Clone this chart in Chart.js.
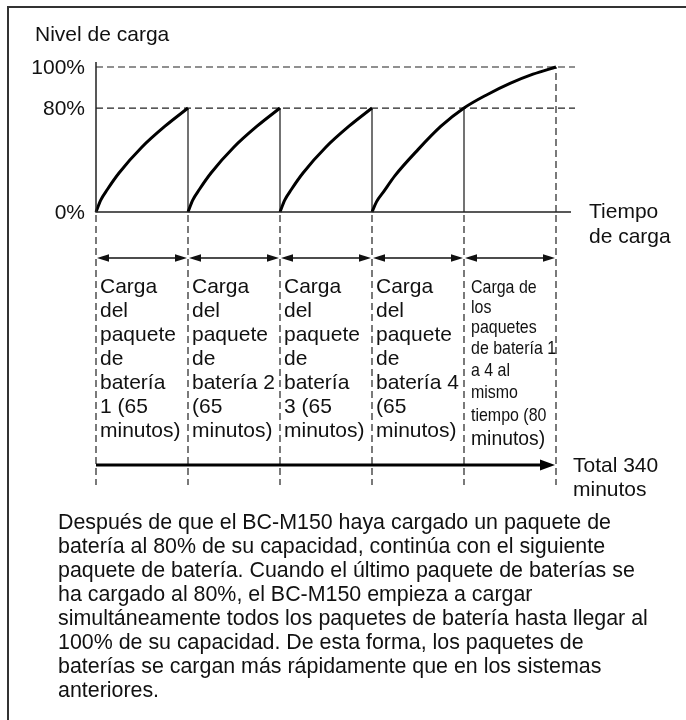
<!DOCTYPE html>
<html>
<head>
<meta charset="utf-8">
<script src="https://cdn.jsdelivr.net/npm/chart.js@4.4.1/dist/chart.umd.min.js"></script>
<style>
  html, body { margin: 0; padding: 0; background: #fff; }
  canvas { display: block; }
</style>
</head>
<body>
<canvas id="carga" width="686" height="720"></canvas>
<script>
// charge level of one pack, read at these fractions of its charging step
const stepFractions = [0, 0.05, 0.125, 0.25, 0.5, 0.75, 1];
const packCharge = [0, 9, 17.5, 30, 50, 66, 80];
// pack 4 runs straight on into the shared step
const lastPackCharge = [0, 8, 15.5, 28, 48, 66, 80];
// all packs together, 80% -> 100%
const finalFractions = [0, 0.25, 0.5, 0.75, 1];
const finalCharge = [80, 86.5, 92, 96.5, 100];

const levelTicks = [0, 80, 100];
const durations = [65, 65, 65, 65, 80];
const packs = [1, 2, 3, 4];

// the drawing puts 80% at ~72% of the height, not linear
function lvl(p) {
  return p <= 80 ? p * 71.7 / 80 : 71.7 + (p - 80) * 28.3 / 20;
}

const colText = [
  ["Carga", "del", "paquete", "de", "batería", "1 (" + durations[0], "minutos)"],
  ["Carga", "del", "paquete", "de", "batería 2", "(" + durations[1], "minutos)"],
  ["Carga", "del", "paquete", "de", "batería", "3 (" + durations[2], "minutos)"],
  ["Carga", "del", "paquete", "de", "batería 4", "(" + durations[3], "minutos)"],
  ["Carga de", "los", "paquetes", "de batería 1", "a 4 al", "mismo", "tiempo (" + durations[4], "minutos)"]
];
const total = durations.reduce((a, b) => a + b, 0);

const parrafo = [
  "Después de que el BC-M150 haya cargado un paquete de",
  "batería al 80% de su capacidad, continúa con el siguiente",
  "paquete de batería. Cuando el último paquete de baterías se",
  "ha cargado al 80%, el BC-M150 empieza a cargar",
  "simultáneamente todos los paquetes de batería hasta llegar al",
  "100% de su capacidad. De esta forma, los paquetes de",
  "baterías se cargan más rápidamente que en los sistemas",
  "anteriores."
];

const FONT = '"Liberation Sans", Arial, Helvetica, sans-serif';
const INK = "#111";

// curves
const datasets = [];
packs.forEach((p, i) => {
  const last = i === packs.length - 1;
  const vals = last ? lastPackCharge : packCharge;
  const pts = stepFractions.map((f, k) => ({ x: i + f, y: lvl(vals[k]) }));
  if (last) {
    finalFractions.slice(1).forEach((f, k) => {
      pts.push({ x: i + 1 + f, y: lvl(finalCharge[k + 1]) });
    });
  }
  datasets.push({
    data: pts, showLine: true, borderColor: "#000", borderWidth: 3,
    pointRadius: 0, cubicInterpolationMode: "monotone", order: 0
  });
});
// drops back to 0% when the next pack starts, and the 80% mark of the last step
packs.forEach((p, i) => {
  datasets.push({
    data: [{ x: i + 1, y: lvl(0) }, { x: i + 1, y: lvl(80) }],
    showLine: true, borderColor: "#444", borderWidth: 1.5, pointRadius: 0, order: 2
  });
});
// reference levels
[80, 100].forEach(v => {
  datasets.push({
    data: [{ x: 0, y: lvl(v) }, { x: 5.207, y: lvl(v) }],
    showLine: true, borderColor: "#222", borderWidth: 1.2, borderDash: [7, 4],
    pointRadius: 0, order: 3
  });
});
datasets.push({
  data: [{ x: 5, y: lvl(0) }, { x: 5, y: lvl(100) }],
  showLine: true, borderColor: "#222", borderWidth: 1.2, borderDash: [7, 4],
  pointRadius: 0, order: 3
});

function arrowHead(ctx, x, y, dir, len, half) {
  ctx.beginPath();
  ctx.moveTo(x, y);
  ctx.lineTo(x - dir * len, y - half);
  ctx.lineTo(x - dir * len, y + half);
  ctx.closePath();
  ctx.fill();
}

const diagrama = {
  id: "diagrama",
  afterDraw(chart) {
    const ctx = chart.ctx;
    const xs = chart.scales.x, ys = chart.scales.y;
    const x0 = xs.getPixelForValue(0);
    const yZero = ys.getPixelForValue(lvl(0));
    ctx.save();

    // frame
    ctx.strokeStyle = "#333";
    ctx.lineWidth = 2;
    ctx.beginPath();
    ctx.moveTo(8, 730);
    ctx.lineTo(8, 7);
    ctx.lineTo(686, 7);
    ctx.stroke();

    ctx.fillStyle = INK;
    ctx.font = "21px " + FONT;
    ctx.textBaseline = "alphabetic";
    ctx.textAlign = "left";
    ctx.fillText("Nivel de carga", 35, 41);

    // axes
    ctx.strokeStyle = "#222";
    ctx.lineWidth = 1.5;
    ctx.beginPath();
    ctx.moveTo(x0, ys.getPixelForValue(103.5));
    ctx.lineTo(x0, yZero);
    ctx.lineTo(xs.getPixelForValue(xs.max), yZero);
    ctx.stroke();

    ctx.textAlign = "right";
    ctx.textBaseline = "middle";
    levelTicks.forEach(v => {
      ctx.fillText(v + "%", x0 - 11, ys.getPixelForValue(lvl(v)) + 1);
    });

    ctx.textAlign = "left";
    ctx.textBaseline = "alphabetic";
    const xr = xs.getPixelForValue(xs.max);
    ctx.fillText("Tiempo", xr + 18, yZero + 6);
    ctx.fillText("de carga", xr + 18, yZero + 31);

    // step boundaries below the axis
    ctx.strokeStyle = "#222";
    ctx.lineWidth = 1.2;
    ctx.setLineDash([7, 4]);
    for (let i = 0; i <= durations.length; i++) {
      const x = xs.getPixelForValue(i);
      ctx.beginPath();
      ctx.moveTo(x, yZero + 3);
      ctx.lineTo(x, yZero + 273);
      ctx.stroke();
    }
    ctx.setLineDash([]);

    // double arrows for each step
    const yArr = yZero + 46;
    ctx.strokeStyle = "#111";
    ctx.lineWidth = 1.5;
    for (let i = 0; i < durations.length; i++) {
      const a = xs.getPixelForValue(i) + 1, b = xs.getPixelForValue(i + 1) - 1;
      ctx.beginPath();
      ctx.moveTo(a + 4, yArr);
      ctx.lineTo(b - 4, yArr);
      ctx.stroke();
      arrowHead(ctx, a, yArr, -1, 12, 3.8);
      arrowHead(ctx, b, yArr, 1, 12, 3.8);
    }

    // step captions
    ctx.fillStyle = INK;
    for (let i = 0; i < 4; i++) {
      const x = xs.getPixelForValue(i) + 4;
      ctx.font = "21px " + FONT;
      colText[i].forEach((t, k) => ctx.fillText(t, x, yZero + 81 + 24 * k));
    }
    const x5 = xs.getPixelForValue(4) + 7;
    const base5 = [293, 313, 333, 354, 376, 398, 421, 445];
    colText[4].forEach((t, k) => {
      ctx.save();
      ctx.translate(x5, base5[k]);
      const last = k === colText[4].length - 1;
      ctx.scale(last ? 0.92 : 0.84, 1);
      ctx.font = (last ? "21px " : "19px ") + FONT;
      ctx.fillText(t, 0, 0);
      ctx.restore();
    });

    // total arrow
    const yTot = yZero + 253;
    const xEnd = xs.getPixelForValue(durations.length);
    ctx.lineWidth = 3;
    ctx.strokeStyle = "#000";
    ctx.fillStyle = "#000";
    ctx.beginPath();
    ctx.moveTo(x0, yTot);
    ctx.lineTo(xEnd - 8, yTot);
    ctx.stroke();
    arrowHead(ctx, xEnd - 1, yTot, 1, 15, 5.5);

    ctx.fillStyle = INK;
    ctx.font = "21px " + FONT;
    ctx.fillText("Total " + total, xEnd + 17, yTot + 7);
    ctx.fillText("minutos", xEnd + 17, yTot + 31);

    // explanation
    ctx.font = "21.4px " + FONT;
    parrafo.forEach((t, k) => ctx.fillText(t, 58, 529 + 24 * k));

    ctx.restore();
  }
};

new Chart(document.getElementById("carga"), {
  type: "scatter",
  data: { datasets: datasets },
  options: {
    responsive: false,
    animation: false,
    devicePixelRatio: 1,
    clip: false,
    layout: { padding: { left: 96, right: 115, top: 67, bottom: 508 } },
    scales: {
      x: { type: "linear", min: 0, max: 5 + 15 / 92, display: false },
      y: { type: "linear", min: 0, max: 100, display: false }
    },
    plugins: { legend: { display: false }, tooltip: { enabled: false } },
    elements: { line: { tension: 0 } }
  },
  plugins: [diagrama]
});
</script>
</body>
</html>
